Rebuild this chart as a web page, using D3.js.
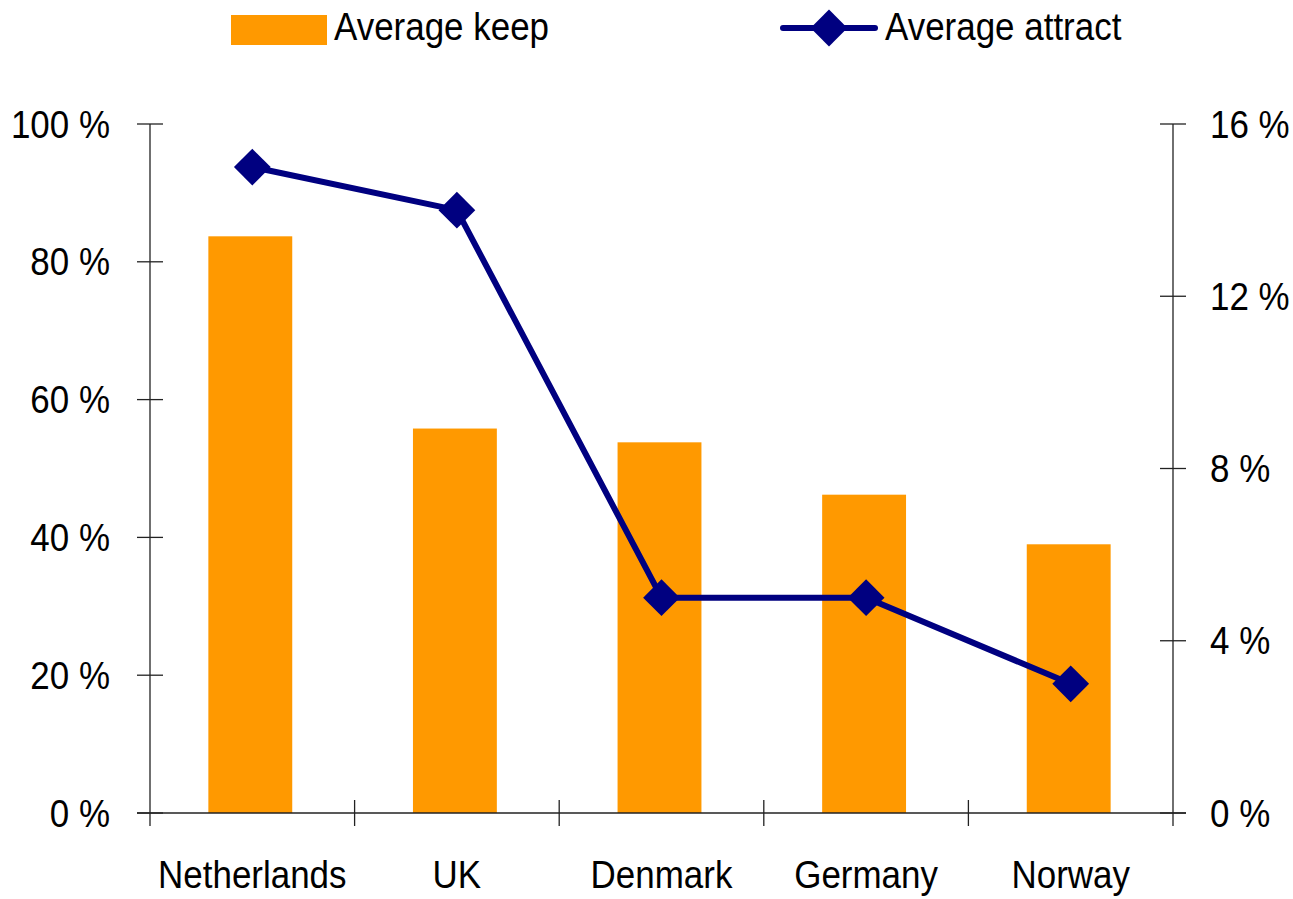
<!DOCTYPE html>
<html>
<head>
<meta charset="utf-8">
<script src="https://cdn.jsdelivr.net/npm/d3@7"></script>
<style>
  body { margin: 0; background: #fff; }
  svg text { font-family: "Liberation Sans Narrow", "Arial Narrow", "Liberation Sans", sans-serif; fill: #000; }
</style>
</head>
<body>
<div id="chart"></div>
<script>
// chart data
const countries = ["Netherlands", "UK", "Denmark", "Germany", "Norway"];
const averageKeep = [83.7, 55.8, 53.8, 46.2, 39.0];
const averageAttract = [15, 14, 5, 5, 3];
const leftTicks = [0, 20, 40, 60, 80, 100];
const rightTicks = [0, 4, 8, 12, 16];

const width = 1293, height = 899;
const plot = { left: 150, right: 1173, top: 124, bottom: 813 };
const fontSize = 38;
const squeeze = 0.92; // narrow font look

const svg = d3.select("#chart").append("svg")
  .attr("width", width)
  .attr("height", height);

const x = d3.scaleBand().domain(countries).range([plot.left, plot.right]);
const yLeft = d3.scaleLinear().domain([0, 100]).range([plot.bottom, plot.top]);
const yRight = d3.scaleLinear().domain([0, 16]).range([plot.bottom, plot.top]);

function place(px, py) {
  return `translate(${px},${py}) scale(${squeeze},1)`;
}

// bars
const barW = x.bandwidth() * 0.41;
svg.append("g").selectAll("rect")
  .data(averageKeep)
  .join("rect")
  .attr("x", (d, i) => x(countries[i]) + x.bandwidth() / 2 - barW / 2 - 2)
  .attr("y", d => yLeft(d))
  .attr("width", barW)
  .attr("height", d => plot.bottom - yLeft(d))
  .attr("fill", "#ff9900");

// axes
const axisColor = "#222";
const axes = svg.append("g").attr("stroke", axisColor).attr("stroke-width", 1.3);
axes.append("line").attr("x1", plot.left).attr("x2", plot.left).attr("y1", plot.top).attr("y2", plot.bottom + 13);
axes.append("line").attr("x1", plot.right).attr("x2", plot.right).attr("y1", plot.top).attr("y2", plot.bottom + 13);
axes.append("line").attr("x1", plot.left - 13).attr("x2", plot.right + 13).attr("y1", plot.bottom).attr("y2", plot.bottom);

leftTicks.forEach(t => {
  axes.append("line").attr("x1", plot.left - 13).attr("x2", plot.left + 13)
    .attr("y1", yLeft(t)).attr("y2", yLeft(t));
});
rightTicks.forEach(t => {
  axes.append("line").attr("x1", plot.right - 13).attr("x2", plot.right + 13)
    .attr("y1", yRight(t)).attr("y2", yRight(t));
});
countries.forEach((c, i) => {
  if (i === 0) return;
  axes.append("line").attr("x1", x(c)).attr("x2", x(c))
    .attr("y1", plot.bottom - 13).attr("y2", plot.bottom + 13);
});

// tick labels
svg.append("g").selectAll("text")
  .data(leftTicks)
  .join("text")
  .attr("transform", d => place(110, yLeft(d)))
  .attr("dy", "0.36em")
  .attr("text-anchor", "end")
  .attr("font-size", fontSize)
  .text(d => d + " %");

svg.append("g").selectAll("text")
  .data(rightTicks)
  .join("text")
  .attr("transform", d => place(1210, yRight(d)))
  .attr("dy", "0.36em")
  .attr("font-size", fontSize)
  .text(d => d + " %");

svg.append("g").selectAll("text")
  .data(countries)
  .join("text")
  .attr("transform", d => place(x(d) + x.bandwidth() / 2, 888))
  .attr("text-anchor", "middle")
  .attr("font-size", fontSize)
  .text(d => d);

// line series
const navy = "#000080";
const line = d3.line()
  .x((d, i) => x(countries[i]) + x.bandwidth() / 2)
  .y(d => yRight(d));

svg.append("path")
  .datum(averageAttract)
  .attr("d", line)
  .attr("fill", "none")
  .attr("stroke", navy)
  .attr("stroke-width", 6)
  .attr("stroke-linejoin", "round");

const diamond = d3.symbol().type(d3.symbolSquare).size(26 * 26);
svg.append("g").selectAll("path")
  .data(averageAttract)
  .join("path")
  .attr("d", diamond)
  .attr("transform", (d, i) => `translate(${x(countries[i]) + x.bandwidth() / 2},${yRight(d)}) rotate(45)`)
  .attr("fill", navy);

// legend
const legend = svg.append("g");
legend.append("rect").attr("x", 231).attr("y", 15).attr("width", 96).attr("height", 30).attr("fill", "#ff9900");
legend.append("text").attr("transform", place(334, 40)).attr("font-size", fontSize).text("Average keep");

legend.append("line").attr("x1", 783).attr("x2", 875).attr("y1", 28).attr("y2", 28)
  .attr("stroke", navy).attr("stroke-width", 6).attr("stroke-linecap", "round");
legend.append("path").attr("d", diamond)
  .attr("transform", "translate(829,28) rotate(45)")
  .attr("fill", navy);
legend.append("text").attr("transform", place(885, 40)).attr("font-size", fontSize).text("Average attract");
</script>
</body>
</html>
